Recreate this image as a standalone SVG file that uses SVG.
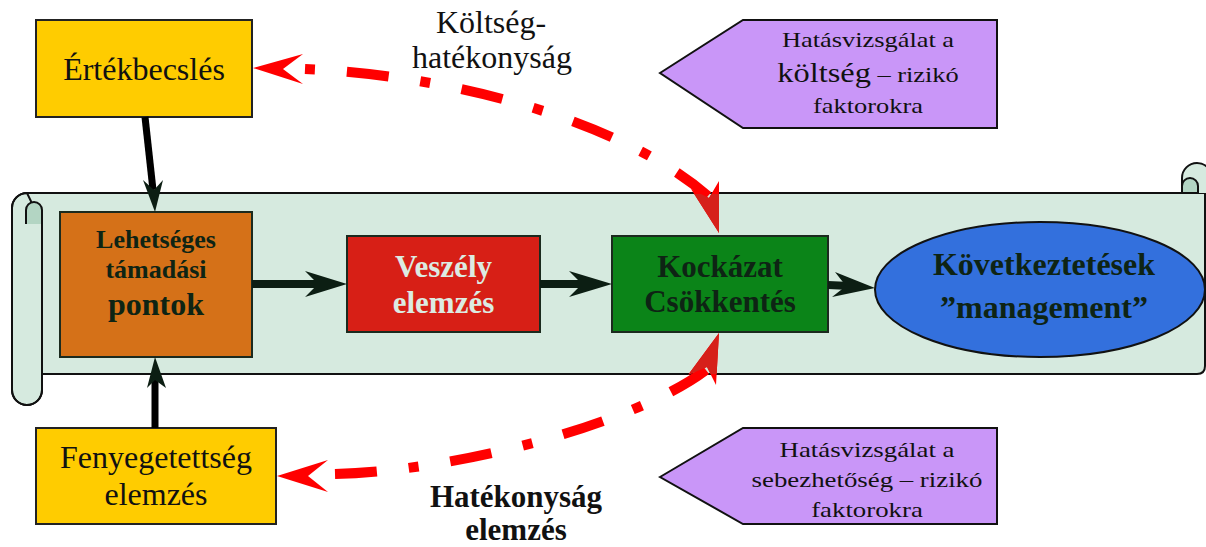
<svg xmlns="http://www.w3.org/2000/svg" width="1206" height="547" viewBox="0 0 1206 547">
<style>
.sc{fill:#d6eadf;stroke:#111;stroke-width:2}
.curl{fill:#b3d5c3;stroke:#111;stroke-width:2}
.box{stroke:#1b2a1e;stroke-width:2}
.yel{fill:#ffcc00;stroke:#222;stroke-width:2}
.pur{fill:#c996f8;stroke:#111;stroke-width:2}
.r{font-family:"Liberation Serif","Times New Roman",serif;fill:#111}
.b{font-family:"Liberation Serif","Times New Roman",serif;font-weight:bold}
.dk{fill:#0e2414}
.lt{fill:#dcebe2}
.blk{stroke:#0c1e13;stroke-width:8;fill:none}
.hd{fill:#0c1e13}
.dash{fill:none;stroke:#ff0000;stroke-width:10}
.rh{fill:#ff0000}
.rh2{fill:#d6201a}
</style>
<defs>
<clipPath id="inScroll"><rect x="0" y="194" width="1206" height="180"/></clipPath>
</defs>
<g id="scroll">
<path class="sc" d="M27 193 H1205 V366 Q1205 374 1197 374 H27 Z"/>
<path class="sc" d="M42 224 V390 A15 15 0 0 1 12 390 V208 A15 15 0 0 1 27 193 Z" stroke="none"/>
<path d="M42 224 V390 A15 15 0 0 1 12 390 V208 A15 15 0 0 1 27 193" fill="none" stroke="#111" stroke-width="2"/>
<path class="curl" d="M26 224 V210 A8 8 0 0 1 42 210 V224"/>
<path class="sc" d="M1182 193 V178 A15 15 0 0 1 1212 178 V193"/>
<path class="curl" d="M1182 186 A8 8 0 0 1 1198 186 V193 H1182 Z"/>
</g>
<g id="ertekbecsles">
<rect class="yel" x="36" y="20" width="216" height="97"/>
<text class="r" x="144" y="80" font-size="32" text-anchor="middle">Értékbecslés</text>
</g>
<g id="fenyegetettseg">
<rect class="yel" x="36" y="428" width="240" height="96"/>
<text class="r" x="156" y="468" font-size="32" text-anchor="middle">Fenyegetettség</text>
<text class="r" x="156" y="505" font-size="32" text-anchor="middle">elemzés</text>
</g>
<g id="lehetseges">
<rect class="box" x="60" y="212" width="192" height="145" fill="#d57118"/>
<text class="b dk" x="156" y="248" font-size="26" text-anchor="middle">Lehetséges</text>
<text class="b dk" x="156" y="278" font-size="26" text-anchor="middle">támadási</text>
<text class="b dk" x="156" y="315" font-size="32" text-anchor="middle">pontok</text>
</g>
<g id="veszely">
<rect class="box" x="347" y="236" width="193" height="96" fill="#d71f16"/>
<text class="b lt" x="443.5" y="277" font-size="31" text-anchor="middle">Veszély</text>
<text class="b lt" x="443.5" y="313" font-size="31" text-anchor="middle">elemzés</text>
</g>
<g id="kockazat">
<rect class="box" x="612" y="236" width="216" height="96" fill="#0b8418"/>
<text class="b dk" x="720" y="277" font-size="31" text-anchor="middle">Kockázat</text>
<text class="b dk" x="720" y="312" font-size="31" text-anchor="middle">Csökkentés</text>
</g>
<g id="kovetkeztetesek">
<ellipse cx="1040" cy="289.5" rx="165" ry="67.5" fill="#3370dd" stroke="#111" stroke-width="2"/>
<text class="b dk" x="1044" y="275" font-size="32" text-anchor="middle">Következtetések</text>
<text class="b dk" x="1044" y="318" font-size="32" text-anchor="middle">”management”</text>
</g>
<g id="hatas1">
<polygon class="pur" points="660,73 743,20 997,20 997,128 743,128"/>
<g transform="translate(868,0) scale(1.2,1)">
<text class="r" x="0" y="47" font-size="22" text-anchor="middle">Hatásvizsgálat a</text>
<text class="r" x="0" y="82" text-anchor="middle"><tspan font-size="27">költség</tspan><tspan font-size="22"> – rizikó</tspan></text>
<text class="r" x="0" y="113" font-size="22" text-anchor="middle">faktorokra</text>
</g>
</g>
<g id="hatas2">
<polygon class="pur" points="660,477 743,428 997,428 997,524 743,524"/>
<g transform="translate(867,0) scale(1.22,1)">
<text class="r" x="0" y="457" font-size="22" text-anchor="middle">Hatásvizsgálat a</text>
<text class="r" x="0" y="487" font-size="22" text-anchor="middle">sebezhetőség – rizikó</text>
<text class="r" x="0" y="517" font-size="22" text-anchor="middle">faktorokra</text>
</g>
</g>
<g id="labels">
<text class="r" x="491" y="33" font-size="32" text-anchor="middle">Költség-</text>
<text class="r" x="492" y="68" font-size="32" text-anchor="middle">hatékonyság</text>
<text class="b" x="516" y="507" font-size="31" text-anchor="middle" fill="#111">Hatékonyság</text>
<text class="b" x="516" y="540" font-size="31" text-anchor="middle" fill="#111">elemzés</text>
</g>
<g id="connectors">
<line x1="145" y1="117" x2="153" y2="190" stroke="#000" stroke-width="7"/>
<polygon class="hd" points="155,212 143,180 154,190 163,180"/>
<line x1="155" y1="428" x2="155" y2="380" stroke="#000" stroke-width="7"/>
<polygon class="hd" points="155,357 147,388 155,380 166,388"/>
<line class="blk" x1="252" y1="284" x2="322" y2="284"/>
<polygon class="hd" points="347,284 305,271 318,284 305,297"/>
<line class="blk" x1="540" y1="284" x2="586" y2="284"/>
<polygon class="hd" points="612,284 569,271 582,284 569,297"/>
<line class="blk" x1="828" y1="285" x2="850" y2="286"/>
<polygon class="hd" points="875,288 835,272 846,286 832,297"/>
<path class="dash" d="M305 69 C450 75 620 120 708 196" stroke-dasharray="10 32 42 32"/>
<polygon class="rh" points="253,68 303,54 283,69 303,84"/>
<polygon class="rh" points="719,233 719,181 709,198 691,189"/>
<polygon class="rh2" points="719,233 719,181 709,198 691,189" clip-path="url(#inScroll)"/>
<path class="dash" d="M335 474 C470 470 640 420 706 370" stroke-dasharray="42 32 10 32"/>
<polygon class="rh" points="277,476 328,460 308,476 328,492"/>
<polygon class="rh" points="719,333 716,385 707,367 688,375"/>
<polygon class="rh2" points="719,333 716,385 707,367 688,375" clip-path="url(#inScroll)"/>
</g>
</svg>
